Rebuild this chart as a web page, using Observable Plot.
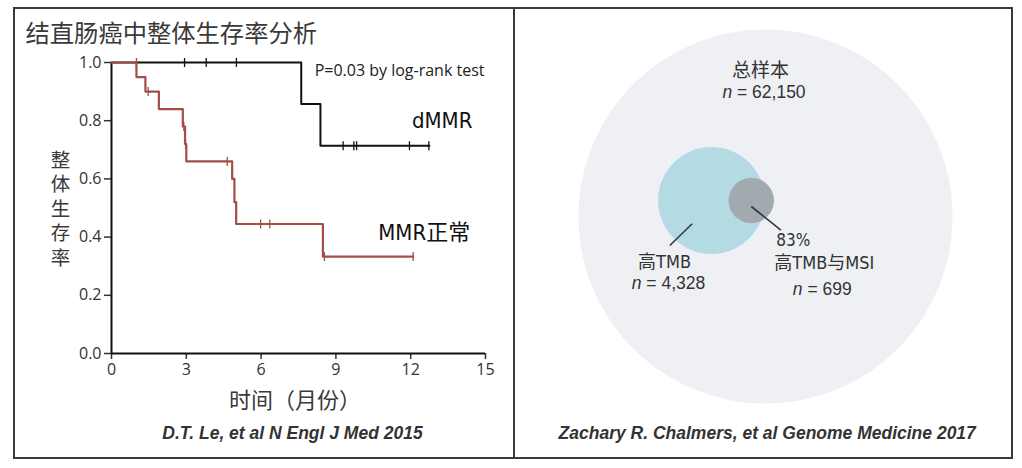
<!DOCTYPE html>
<html>
<head>
<meta charset="utf-8">
<script src="https://cdn.jsdelivr.net/npm/d3@7"></script>
<script src="https://cdn.jsdelivr.net/npm/@observablehq/plot@0.6"></script>
<style>
  body { margin: 0; background: #fff; }
  #wrap { position: relative; width: 1022px; height: 468px; overflow: hidden; background: #fff; }
  #left, #right { position: absolute; top: 0; }
  #left { left: 0; }
  #right { left: 513px; }
  .frame { position: absolute; border: 2.5px solid #3a3a3a; box-sizing: border-box; pointer-events: none; }
  .divider { position: absolute; background: #3a3a3a; pointer-events: none; }
</style>
</head>
<body>
<div id="wrap">
  <div id="left"></div>
  <div id="right"></div>
  <div class="frame" style="left:13px;top:7px;width:1000px;height:452px;"></div>
  <div class="divider" style="left:512.5px;top:7px;width:2.5px;height:452px;"></div>
</div>
<script>
// ---------------- Data: Kaplan–Meier (left panel) ----------------
const xTicks = [0, 3, 6, 9, 12, 15];
const yTicks = [0, 0.2, 0.4, 0.6, 0.8, 1.0];

const dmmrTime = [0, 7.61, 8.38, 12.75];
const dmmrSurv = [1, 0.857, 0.714, 0.714];
const dmmrCensorTime = [2.93, 3.80, 5.01, 9.29, 9.72, 9.83, 11.95, 12.73];
const dmmrCensorSurv = [1, 1, 1, 0.714, 0.714, 0.714, 0.714, 0.714];

const mmrTime = [0, 1.00, 1.36, 1.90, 2.86, 2.95, 3.00, 4.84, 4.93, 5.00, 8.48, 12.10];
const mmrSurv = [1, 0.95, 0.90, 0.84, 0.78, 0.72, 0.66, 0.60, 0.52, 0.445, 0.333, 0.333];
const mmrCensorTime = [1.00, 1.47, 2.90, 2.97, 4.64, 5.98, 6.35, 8.54, 12.10];
const mmrCensorSurv = [1, 0.90, 0.78, 0.72, 0.66, 0.445, 0.445, 0.333, 0.333];

const leftTitle = "结直肠癌中整体生存率分析";
const yLabel = "整体生存率";
const xLabel = "时间（月份）";
const pText = "P=0.03 by log-rank test";
const seriesNames = ["dMMR", "MMR正常"];
const leftCaption = "D.T. Le, et al N Engl J Med 2015";

// ---------------- Data: Venn (right panel) ----------------
const vennNames = ["总样本", "高TMB", "高TMB与MSI"];
const vennCounts = [62150, 4328, 699];
const vennCountLabels = ["62,150", "4,328", "699"];
const overlapPct = 83;
const rightCaption = "Zachary R. Chalmers, et al Genome Medicine 2017";

// ---------------- helpers ----------------
const zip = (ts, ss) => ts.map((t, i) => ({t, s: ss[i]}));
const dmmr = zip(dmmrTime, dmmrSurv);
const mmr = zip(mmrTime, mmrSurv);
const dmmrCens = zip(dmmrCensorTime, dmmrCensorSurv);
const mmrCens = zip(mmrCensorTime, mmrCensorSurv);

const vtick = { draw(ctx, size) { const h = Math.sqrt(size / Math.PI); ctx.moveTo(0, -h); ctx.lineTo(0, h); } };

const RED = "#a24e47";
const BLK = "#111";
const TXT = "#333";
const SANS = "'Open Sans', 'Noto Sans CJK SC', sans-serif";
const CJK = "'Noto Sans CJK SC', sans-serif";
const COND = "'DejaVu Sans Condensed', 'Liberation Sans Narrow', 'Noto Sans CJK SC', sans-serif";
const ARIAL = "'Liberation Sans', Arial, sans-serif";

const left = Plot.plot({
  width: 513, height: 468,
  marginLeft: 111, marginRight: 28, marginTop: 62, marginBottom: 115,
  style: { background: "transparent", fontFamily: SANS, overflow: "visible" },
  x: { domain: [0, 15], ticks: xTicks },
  y: { domain: [0, 1], ticks: yTicks },
  marks: [
    Plot.axisX({ ticks: xTicks, tickSize: 6, tickPadding: 4, label: null, fontSize: 16, color: TXT, strokeWidth: 1.5 }),
    Plot.axisY({ ticks: yTicks, tickSize: 7, tickPadding: 3, tickFormat: d3.format(".1f"), label: null, fontSize: 16, color: TXT, strokeWidth: 1.5 }),
    Plot.ruleX([0], { stroke: BLK, strokeWidth: 2 }),
    Plot.ruleY([0], { stroke: BLK, strokeWidth: 2 }),
    Plot.line(dmmr, { x: "t", y: "s", curve: "step-after", stroke: BLK, strokeWidth: 2 }),
    Plot.dot(dmmrCens, { x: "t", y: "s", symbol: vtick, r: 4.5, stroke: BLK, strokeWidth: 1.3, fill: "none" }),
    Plot.line(mmr, { x: "t", y: "s", curve: "step-after", stroke: RED, strokeWidth: 2.2 }),
    Plot.dot(mmrCens, { x: "t", y: "s", symbol: vtick, r: 4.5, stroke: RED, strokeWidth: 1.3, fill: "none" }),
    Plot.text([pText], { text: d => d, frameAnchor: "top-right", textAnchor: "end", lineAnchor: "middle", dx: -1, dy: 8, fontSize: 16, fill: "#222" }),
    Plot.text([dmmr[dmmr.length - 1]], { x: "t", y: "s", text: () => seriesNames[0], textAnchor: "end", lineAnchor: "middle", dx: 43, dy: -25, fontSize: 22, fontFamily: COND, fill: "#111" }),
    Plot.text([mmr[mmr.length - 1]], { x: "t", y: "s", text: () => seriesNames[1], textAnchor: "end", lineAnchor: "middle", dx: 57, dy: -24, fontSize: 22, fontFamily: COND, fill: "#111" }),
    Plot.text([leftTitle], { text: d => d, frameAnchor: "top-left", textAnchor: "start", lineAnchor: "middle", dx: -86, dy: -28, fontSize: 24.3, fontFamily: CJK, fill: "#3a3a3a" }),
    Plot.text([yLabel.split("").join("\n")], { text: d => d, frameAnchor: "left", textAnchor: "middle", lineAnchor: "middle", dx: -51, dy: 0, fontSize: 19.5, lineHeight: 1.25, fontFamily: CJK, fill: "#3a3a3a" }),
    Plot.text([xLabel], { text: d => d, frameAnchor: "bottom", textAnchor: "middle", lineAnchor: "middle", dx: -3.5, dy: 47, fontSize: 22, fontFamily: CJK, fill: "#3a3a3a" }),
    Plot.text([leftCaption], { text: d => d, frameAnchor: "bottom", textAnchor: "middle", lineAnchor: "middle", dx: -6, dy: 79.5, fontSize: 17.5, fontFamily: ARIAL, fontWeight: "bold", fontStyle: "italic", fill: TXT })
  ]
});
document.getElementById("left").appendChild(left);

// ---------------- Venn layout ----------------
const R_MAX = 187; // pixel radius of the total-sample circle
const rScaleCfg = { type: "pow", exponent: 0.47, domain: [0, vennCounts[0]], range: [0, R_MAX] };
const rPx = d3.scalePow().exponent(rScaleCfg.exponent).domain(rScaleCfg.domain).range(rScaleCfg.range);

function overlapArea(r, R, d) {
  if (d >= r + R) return 0;
  if (d <= Math.abs(R - r)) return Math.PI * Math.min(r, R) ** 2;
  const a = r * r * Math.acos((d * d + r * r - R * R) / (2 * d * r));
  const b = R * R * Math.acos((d * d + R * R - r * r) / (2 * d * R));
  const c = 0.5 * Math.sqrt((-d + r + R) * (d + r - R) * (d - r + R) * (d + r + R));
  return a + b - c;
}
const rB = rPx(vennCounts[1]), rG = rPx(vennCounts[2]);
const target = overlapPct / 100 * Math.PI * rG * rG;
let lo = Math.abs(rB - rG), hi = rB + rG;
for (let i = 0; i < 60; i++) { const mid = (lo + hi) / 2; if (overlapArea(rG, rB, mid) > target) lo = mid; else hi = mid; }
const dist = (lo + hi) / 2;

// circle centres in pixel units relative to the total-sample circle centre
const B = { x: -54, y: -16 };
const G = { x: B.x + dist, y: B.y };
const centres = [{ x: 0, y: 0 }, B, G];
const fills = ["#eef0f4", "#b4dbe4", "#a1aaae"];
const circles = vennCounts.map((n, i) => ({ n, x: centres[i].x, y: centres[i].y, fill: fills[i] }));

const leaders = [
  { x1: G.x, y1: G.y + 6, x2: G.x + 29.6, y2: G.y + 29.6 },
  { x1: B.x - 19.3, y1: B.y + 23.3, x2: B.x - 41.7, y2: B.y + 45 }
];

const labelPos = [
  { name: { x: -5, y: -146 }, n: { x: -1.5, y: -124 } },
  { name: { x: B.x - 47, y: B.y + 62 }, n: { x: B.x - 43, y: B.y + 83 } },
  { name: { x: G.x + 73, y: G.y + 63 }, n: { x: G.x + 71, y: G.y + 89 } }
];
const nameLabels = vennNames.map((t, i) => ({ t, ...labelPos[i].name }));
const nLabels = vennCountLabels.map((c, i) => ({ t: "n = " + c, ...labelPos[i].n }));
const pctLabel = [{ t: overlapPct + "%", x: G.x + 42, y: G.y + 40 }];

const right = Plot.plot({
  width: 509, height: 468,
  marginLeft: 65, marginRight: 70, marginTop: 29, marginBottom: 65,
  style: { background: "transparent", fontFamily: ARIAL, overflow: "visible" },
  x: { domain: [-R_MAX, R_MAX], axis: null },
  y: { domain: [-R_MAX, R_MAX], reverse: true, axis: null },
  r: rScaleCfg,
  color: { type: "identity" },
  marks: [
    Plot.dot(circles, { x: "x", y: "y", r: "n", fill: "fill", stroke: "none" }),
    Plot.link(leaders, { x1: "x1", y1: "y1", x2: "x2", y2: "y2", stroke: "#2e3b40", strokeWidth: 1.6 }),
    Plot.text(nameLabels.slice(0, 1), { x: "x", y: "y", text: "t", fontSize: 19, fontFamily: CJK, fill: TXT }),
    Plot.text(nameLabels.slice(1), { x: "x", y: "y", text: "t", fontSize: 18, fontFamily: COND, fill: TXT }),
    Plot.text(nLabels, { x: "x", y: "y", text: "t", fontSize: 17.5, fontFamily: ARIAL, fill: TXT }),
    Plot.text(pctLabel, { x: "x", y: "y", text: "t", fontSize: 17, fontFamily: COND, fill: TXT }),
    Plot.text([rightCaption], { text: d => d, frameAnchor: "bottom", textAnchor: "middle", lineAnchor: "middle", dx: 1.7, dy: 30, fontSize: 17.5, fontFamily: ARIAL, fontWeight: "bold", fontStyle: "italic", fill: TXT })
  ]
});
// italicise the "n" in the "n = …" labels
right.querySelectorAll("text").forEach(t => {
  const s = t.textContent;
  if (s.startsWith("n = ")) {
    t.textContent = "";
    const ns = "http://www.w3.org/2000/svg";
    const a = document.createElementNS(ns, "tspan");
    a.setAttribute("font-style", "italic");
    a.textContent = "n";
    const b = document.createElementNS(ns, "tspan");
    b.textContent = s.slice(1);
    t.appendChild(a); t.appendChild(b);
  }
});
document.getElementById("right").appendChild(right);
</script>
</body>
</html>
